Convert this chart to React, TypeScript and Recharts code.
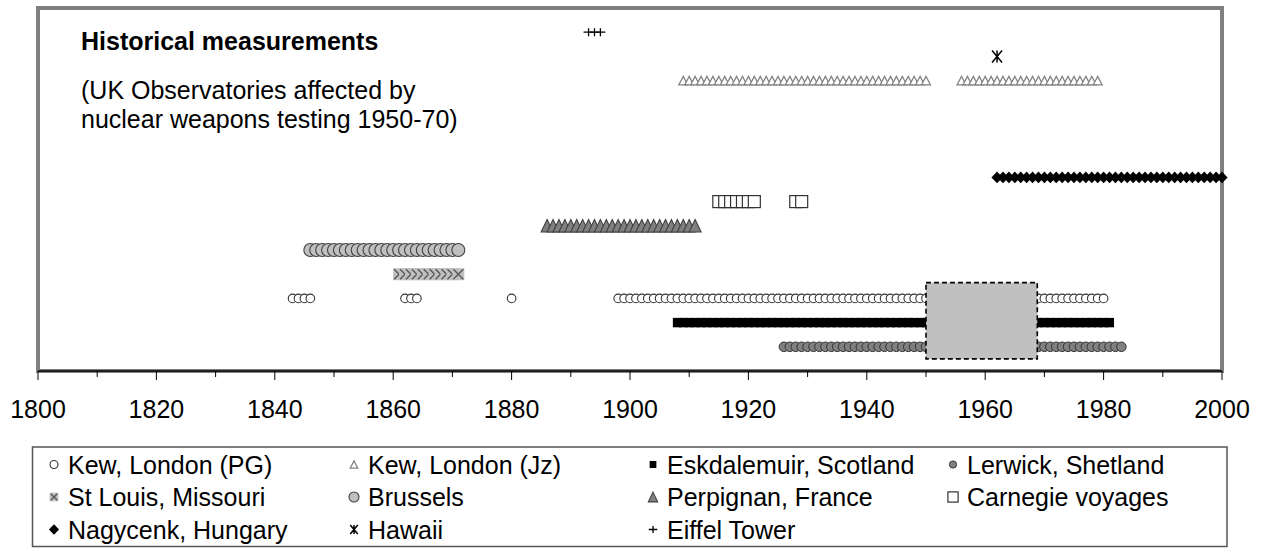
import { ScatterChart, Scatter, XAxis, YAxis, ReferenceArea } from "recharts";

const FONT = "'Liberation Sans', Arial, Helvetica, sans-serif";
const DARK = "#333333";

// x axis ticks: every 10 years, labelled every 20
const yearTicks = [
  1800, 1810, 1820, 1830, 1840, 1850, 1860, 1870, 1880, 1890, 1900,
  1910, 1920, 1930, 1940, 1950, 1960, 1970, 1980, 1990, 2000,
];

// years with a measurement, per station
const kewPGYears = [
  1843, 1844, 1845, 1846, 1862, 1863, 1864, 1880, 1898, 1899,
  1900, 1901, 1902, 1903, 1904, 1905, 1906, 1907, 1908, 1909,
  1910, 1911, 1912, 1913, 1914, 1915, 1916, 1917, 1918, 1919,
  1920, 1921, 1922, 1923, 1924, 1925, 1926, 1927, 1928, 1929,
  1930, 1931, 1932, 1933, 1934, 1935, 1936, 1937, 1938, 1939,
  1940, 1941, 1942, 1943, 1944, 1945, 1946, 1947, 1948, 1949,
  1950, 1951, 1952, 1953, 1954, 1955, 1956, 1957, 1958, 1959,
  1960, 1961, 1962, 1963, 1964, 1965, 1966, 1967, 1968, 1969,
  1970, 1971, 1972, 1973, 1974, 1975, 1976, 1977, 1978, 1979,
  1980,
];
const kewJzYears = [
  1909, 1910, 1911, 1912, 1913, 1914, 1915, 1916, 1917, 1918, 1919,
  1920, 1921, 1922, 1923, 1924, 1925, 1926, 1927, 1928, 1929,
  1930, 1931, 1932, 1933, 1934, 1935, 1936, 1937, 1938, 1939,
  1940, 1941, 1942, 1943, 1944, 1945, 1946, 1947, 1948, 1949,
  1950, 1956, 1957, 1958, 1959,
  1960, 1961, 1962, 1963, 1964, 1965, 1966, 1967, 1968, 1969,
  1970, 1971, 1972, 1973, 1974, 1975, 1976, 1977, 1978, 1979,
];
const eskdalemuirYears = [
  1908, 1909, 1910, 1911, 1912, 1913, 1914, 1915, 1916, 1917, 1918, 1919,
  1920, 1921, 1922, 1923, 1924, 1925, 1926, 1927, 1928, 1929,
  1930, 1931, 1932, 1933, 1934, 1935, 1936, 1937, 1938, 1939,
  1940, 1941, 1942, 1943, 1944, 1945, 1946, 1947, 1948, 1949,
  1950, 1951, 1952, 1953, 1954, 1955, 1956, 1957, 1958, 1959,
  1960, 1961, 1962, 1963, 1964, 1965, 1966, 1967, 1968, 1969,
  1970, 1971, 1972, 1973, 1974, 1975, 1976, 1977, 1978, 1979,
  1980, 1981,
];
const lerwickYears = [
  1926, 1927, 1928, 1929,
  1930, 1931, 1932, 1933, 1934, 1935, 1936, 1937, 1938, 1939,
  1940, 1941, 1942, 1943, 1944, 1945, 1946, 1947, 1948, 1949,
  1950, 1951, 1952, 1953, 1954, 1955, 1956, 1957, 1958, 1959,
  1960, 1961, 1962, 1963, 1964, 1965, 1966, 1967, 1968, 1969,
  1970, 1971, 1972, 1973, 1974, 1975, 1976, 1977, 1978, 1979,
  1980, 1981, 1982, 1983,
];
const stLouisYears = [1861, 1862, 1863, 1864, 1865, 1866, 1867, 1868, 1869, 1870, 1871];
const brusselsYears = [
  1846, 1847, 1848, 1849, 1850, 1851, 1852, 1853, 1854, 1855,
  1856, 1857, 1858, 1859, 1860, 1861, 1862, 1863, 1864, 1865,
  1866, 1867, 1868, 1869, 1870, 1871,
];
const perpignanYears = [
  1886, 1887, 1888, 1889, 1890, 1891, 1892, 1893, 1894, 1895,
  1896, 1897, 1898, 1899, 1900, 1901, 1902, 1903, 1904, 1905,
  1906, 1907, 1908, 1909, 1910, 1911,
];
const carnegieYears = [1915, 1916, 1917, 1918, 1919, 1920, 1921, 1928, 1929];
const nagycenkYears = [
  1962, 1963, 1964, 1965, 1966, 1967, 1968, 1969,
  1970, 1971, 1972, 1973, 1974, 1975, 1976, 1977, 1978, 1979,
  1980, 1981, 1982, 1983, 1984, 1985, 1986, 1987, 1988, 1989,
  1990, 1991, 1992, 1993, 1994, 1995, 1996, 1997, 1998, 1999,
  2000,
];
const hawaiiYears = [1962];
const eiffelYears = [1893, 1894, 1895];

// legend order
const stationNames = [
  "Kew, London (PG)", "Kew, London (Jz)", "Eskdalemuir, Scotland", "Lerwick, Shetland",
  "St Louis, Missouri", "Brussels", "Perpignan, France", "Carnegie voyages",
  "Nagycenk, Hungary", "Hawaii", "Eiffel Tower",
];
// row on the chart (1 = bottom)
const stationRows = [3, 12, 2, 1, 4, 5, 6, 7, 8, 13, 14];
const stationYears = [
  kewPGYears, kewJzYears, eskdalemuirYears, lerwickYears,
  stLouisYears, brusselsYears, perpignanYears, carnegieYears,
  nagycenkYears, hawaiiYears, eiffelYears,
];

// nuclear testing period shaded over the UK observatories
const testingStart = 1950;
const testingEnd = 1968.8;

type Mark = (cx: number, cy: number, s: number) => JSX.Element;

const tri = (cx: number, cy: number, w: number, h: number) =>
  `M${cx},${cy - h / 2}L${cx + w / 2},${cy + h / 2}L${cx - w / 2},${cy + h / 2}Z`;

const MARKS: Mark[] = [
  // Kew PG
  (cx, cy, s) => <circle cx={cx} cy={cy} r={4.3 * s} fill="#fff" stroke={DARK} strokeWidth={1.1} />,
  // Kew Jz
  (cx, cy, s) => <path d={tri(cx, cy, 9 * s, 8.5 * s)} fill="#fff" stroke="#808080" strokeWidth={1.2} />,
  // Eskdalemuir
  (cx, cy, s) => <rect x={cx - 4.5 * s} y={cy - 4.7 * s} width={9 * s} height={9.4 * s} fill="#000" />,
  // Lerwick
  (cx, cy, s) => <circle cx={cx} cy={cy} r={4.8 * s} fill="#808080" stroke={DARK} strokeWidth={1} />,
  // St Louis
  (cx, cy, s) => {
    const h = 6 * s;
    return (
      <g>
        <rect x={cx - h} y={cy - h} width={2 * h} height={2 * h} fill="#c0c0c0" />
        <path
          d={`M${cx - h + 1},${cy - h + 1}L${cx + h - 1},${cy + h - 1}M${cx + h - 1},${cy - h + 1}L${cx - h + 1},${cy + h - 1}`}
          stroke="#555"
          strokeWidth={1.3}
        />
      </g>
    );
  },
  // Brussels
  (cx, cy, s) => <circle cx={cx} cy={cy} r={6.5 * s} fill="#c0c0c0" stroke="#404040" strokeWidth={1.1} />,
  // Perpignan
  (cx, cy, s) => <path d={tri(cx, cy, 12 * s, 12.5 * s)} fill="#808080" stroke="#404040" strokeWidth={1.1} />,
  // Carnegie
  (cx, cy, s) => (
    <rect x={cx - 6 * s} y={cy - 6 * s} width={12 * s} height={12 * s} fill="#fff" stroke={DARK} strokeWidth={1.2} />
  ),
  // Nagycenk
  (cx, cy, s) => (
    <path
      d={`M${cx},${cy - 5.8 * s}L${cx + 5.6 * s},${cy}L${cx},${cy + 5.8 * s}L${cx - 5.6 * s},${cy}Z`}
      fill="#000"
    />
  ),
  // Hawaii
  (cx, cy, s) => {
    const w = 5 * s;
    const h = 6 * s;
    return (
      <path
        d={`M${cx - w},${cy - h}L${cx + w},${cy + h}M${cx + w},${cy - h}L${cx - w},${cy + h}M${cx},${cy - h}L${cx},${cy + h}`}
        stroke="#000"
        strokeWidth={1.5}
      />
    );
  },
  // Eiffel Tower
  (cx, cy, s) => (
    <path
      d={`M${cx - 5 * s},${cy}L${cx + 5 * s},${cy}M${cx},${cy - 4 * s}L${cx},${cy + 4 * s}`}
      stroke="#000"
      strokeWidth={1.3}
    />
  ),
];

const legendScale = [0.93, 0.85, 0.75, 0.75, 0.72, 0.77, 0.78, 0.85, 0.9, 0.75, 0.85];
const legendTextX = [68, 368, 667, 967];
const legendBaseline = [473.5, 506, 538.5];

const YearTick = (props: any) => {
  const { x, y, payload } = props;
  const major = payload.value % 20 === 0;
  return (
    <g>
      <line x1={x} x2={x} y1={y} y2={y + (major ? 9 : 6)} stroke="#000" strokeWidth={1} />
      {major && (
        <text x={x} y={y + 47} textAnchor="middle" fontFamily={FONT} fontSize={25} fill="#000">
          {payload.value}
        </text>
      )}
    </g>
  );
};

export default function App() {
  const series = stationNames.map((name, i) => ({
    name,
    mark: MARKS[i],
    data: stationYears[i].map((year) => ({ year, row: stationRows[i] })),
  }));

  return (
    <div style={{ position: "absolute", left: 0, top: 0, width: 1271, height: 552, background: "#fff" }}>
      <ScatterChart width={1271} height={552} margin={{ top: 8, right: 49, bottom: 131, left: 38 }}>
        <XAxis
          type="number"
          dataKey="year"
          domain={[1800, 2000]}
          ticks={yearTicks}
          interval={0}
          tick={<YearTick />}
          tickLine={false}
          tickSize={0}
          tickMargin={0}
          axisLine={{ stroke: "#000", strokeWidth: 1.5 }}
          height={50}
        />
        <YAxis type="number" dataKey="row" domain={[0, 15]} hide />
        <ReferenceArea
          x1={1800}
          x2={2000}
          y1={0}
          y2={15}
          fill="none"
          stroke="#808080"
          strokeWidth={4}
        />
        {series.map((s) => (
          <Scatter
            key={s.name}
            name={s.name}
            data={s.data}
            isAnimationActive={false}
            shape={(p: any) => s.mark(p.cx, p.cy, 1)}
          />
        ))}
        <ReferenceArea
          x1={testingStart}
          x2={testingEnd}
          y1={0.5}
          y2={3.65}
          fill="#c0c0c0"
          fillOpacity={1}
          stroke="#000"
          strokeWidth={1.6}
          strokeDasharray="5 3"
          zIndex={1000}
        />
      </ScatterChart>

      <svg
        width={1271}
        height={552}
        style={{ position: "absolute", left: 0, top: 0, pointerEvents: "none" }}
      >
        <text x={81} y={50} fontFamily={FONT} fontSize={25} fontWeight="bold" fill="#000">
          Historical measurements
        </text>
        <text x={81} y={99} fontFamily={FONT} fontSize={25} fill="#000">
          (UK Observatories affected by
        </text>
        <text x={81} y={127.5} fontFamily={FONT} fontSize={25} fill="#000">
          nuclear weapons testing 1950-70)
        </text>

        <rect x={32.5} y={447} width={1194.5} height={99.5} fill="#fff" stroke="#555" strokeWidth={1.5} />
        {stationNames.map((name, i) => {
          const col = i % 4;
          const row = Math.floor(i / 4);
          const tx = legendTextX[col];
          const by = legendBaseline[row];
          return (
            <g key={name}>
              {MARKS[i](tx - 14, by - 9, legendScale[i])}
              <text x={tx} y={by} fontFamily={FONT} fontSize={25} fill="#000">
                {name}
              </text>
            </g>
          );
        })}
      </svg>
    </div>
  );
}
